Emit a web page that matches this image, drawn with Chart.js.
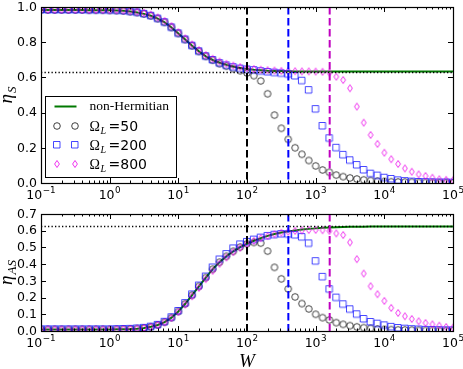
<!DOCTYPE html>
<html>
<head>
<meta charset="utf-8">
<title>eta_S / eta_AS vs W</title>
<script src="https://cdn.jsdelivr.net/npm/chart.js@4.4.1/dist/chart.umd.min.js"></script>
<style>
  html, body { margin: 0; padding: 0; background: #fff; }
  #page { position: relative; width: 463px; height: 369px; overflow: hidden; }
  #top-chart { position: absolute; left: 0; top: 0; }
  #bottom-chart { position: absolute; left: 0; top: 207px; }
</style>
</head>
<body>
<div id="page">
  <canvas id="top-chart" width="463" height="207"></canvas>
  <canvas id="bottom-chart" width="463" height="162"></canvas>
</div>
<script>
// W grid, 10 points per decade
const wValues = [
  0.1, 0.1259, 0.1585, 0.1995, 0.2512, 0.3162, 0.3981, 0.5012, 0.631, 0.7943,
  1, 1.259, 1.585, 1.995, 2.512, 3.162, 3.981, 5.012, 6.31, 7.943,
  10, 12.59, 15.85, 19.95, 25.12, 31.62, 39.81, 50.12, 63.1, 79.43,
  100, 125.9, 158.5, 199.5, 251.2, 316.2, 398.1, 501.2, 631, 794.3,
  1000, 1259, 1585, 1995, 2512, 3162, 3981, 5012, 6310, 7943,
  10000, 12590, 15850, 19950, 25120, 31620, 39810, 50120, 63100, 79430,
  100000
];

// top panel: eta_S
const etaS_nh = [
  0.983, 0.983, 0.983, 0.983, 0.983, 0.983, 0.983, 0.982, 0.982, 0.982,
  0.981, 0.980, 0.978, 0.974, 0.969, 0.961, 0.950, 0.934, 0.913, 0.884,
  0.850, 0.815, 0.780, 0.748, 0.720, 0.699, 0.683, 0.671, 0.661, 0.654,
  0.648, 0.644, 0.641, 0.638, 0.637, 0.636, 0.635, 0.634, 0.633, 0.633,
  0.633, 0.633, 0.633, 0.633, 0.633, 0.633, 0.633, 0.633, 0.633, 0.633,
  0.633, 0.633, 0.633, 0.633, 0.633, 0.633, 0.633, 0.633, 0.633, 0.633,
  0.633
];
const etaS_50 = [
  0.983, 0.983, 0.983, 0.983, 0.983, 0.983, 0.983, 0.982, 0.982, 0.982,
  0.981, 0.980, 0.978, 0.974, 0.969, 0.961, 0.950, 0.934, 0.913, 0.884,
  0.850, 0.815, 0.780, 0.748, 0.720, 0.698, 0.678, 0.664, 0.650, 0.638,
  0.625, 0.610, 0.580, 0.507, 0.386, 0.311, 0.248, 0.200, 0.163, 0.128,
  0.097, 0.074, 0.061, 0.045, 0.036, 0.029, 0.023, 0.018, 0.014, 0.011,
  0.009, 0.007, 0.006, 0.005, 0.004, 0.003, 0.003, 0.002, 0.002, 0.002,
  0.001
];
const etaS_200 = [
  0.983, 0.983, 0.983, 0.983, 0.983, 0.983, 0.983, 0.982, 0.982, 0.982,
  0.981, 0.980, 0.978, 0.974, 0.969, 0.961, 0.950, 0.934, 0.913, 0.884,
  0.850, 0.815, 0.780, 0.748, 0.720, 0.699, 0.681, 0.668, 0.658, 0.650,
  0.645, 0.641, 0.635, 0.631, 0.627, 0.623, 0.618, 0.608, 0.581, 0.528,
  0.420, 0.324, 0.254, 0.200, 0.160, 0.129, 0.102, 0.074, 0.053, 0.042,
  0.030, 0.023, 0.015, 0.011, 0.008, 0.006, 0.005, 0.004, 0.003, 0.003,
  0.002
];
const etaS_800 = [
  0.985, 0.985, 0.985, 0.985, 0.985, 0.985, 0.985, 0.984, 0.984, 0.984,
  0.983, 0.982, 0.981, 0.978, 0.974, 0.967, 0.957, 0.941, 0.921, 0.892,
  0.857, 0.822, 0.787, 0.755, 0.727, 0.706, 0.690, 0.677, 0.667, 0.659,
  0.653, 0.648, 0.644, 0.641, 0.639, 0.637, 0.636, 0.635, 0.634, 0.634,
  0.633, 0.632, 0.627, 0.604, 0.585, 0.538, 0.434, 0.343, 0.273, 0.222,
  0.172, 0.135, 0.108, 0.083, 0.064, 0.049, 0.040, 0.030, 0.021, 0.018,
  0.015
];

// bottom panel: eta_AS
const etaAS_nh = [
  0.009, 0.009, 0.009, 0.009, 0.009, 0.009, 0.009, 0.009, 0.009, 0.009,
  0.009, 0.010, 0.011, 0.012, 0.014, 0.018, 0.025, 0.036, 0.053, 0.080,
  0.117, 0.163, 0.214, 0.267, 0.320, 0.370, 0.412, 0.447, 0.477, 0.502,
  0.522, 0.540, 0.556, 0.569, 0.580, 0.589, 0.596, 0.602, 0.607, 0.611,
  0.614, 0.617, 0.619, 0.621, 0.622, 0.623, 0.624, 0.624, 0.625, 0.625,
  0.625, 0.625, 0.625, 0.625, 0.625, 0.625, 0.625, 0.625, 0.625, 0.625,
  0.625
];
const etaAS_50 = [
  0.009, 0.009, 0.009, 0.009, 0.009, 0.009, 0.009, 0.009, 0.009, 0.009,
  0.009, 0.010, 0.011, 0.012, 0.014, 0.018, 0.025, 0.036, 0.053, 0.080,
  0.117, 0.163, 0.214, 0.267, 0.320, 0.370, 0.412, 0.447, 0.477, 0.502,
  0.522, 0.530, 0.526, 0.478, 0.381, 0.312, 0.252, 0.204, 0.164, 0.132,
  0.100, 0.080, 0.066, 0.050, 0.040, 0.032, 0.025, 0.020, 0.016, 0.012,
  0.010, 0.008, 0.007, 0.006, 0.005, 0.004, 0.003, 0.003, 0.002, 0.002,
  0.002
];
const etaAS_200 = [
  0.010, 0.010, 0.010, 0.010, 0.010, 0.010, 0.010, 0.010, 0.010, 0.010,
  0.010, 0.011, 0.012, 0.013, 0.015, 0.019, 0.026, 0.037, 0.055, 0.082,
  0.120, 0.167, 0.219, 0.272, 0.326, 0.380, 0.428, 0.460, 0.494, 0.518,
  0.533, 0.547, 0.559, 0.569, 0.576, 0.580, 0.579, 0.574, 0.562, 0.524,
  0.418, 0.324, 0.250, 0.200, 0.160, 0.130, 0.100, 0.072, 0.054, 0.044,
  0.034, 0.025, 0.018, 0.014, 0.011, 0.009, 0.007, 0.006, 0.005, 0.004,
  0.004
];
const etaAS_800 = [
  0.009, 0.009, 0.009, 0.009, 0.009, 0.009, 0.009, 0.009, 0.009, 0.009,
  0.009, 0.010, 0.011, 0.012, 0.014, 0.018, 0.025, 0.036, 0.052, 0.078,
  0.114, 0.158, 0.208, 0.258, 0.310, 0.360, 0.402, 0.440, 0.472, 0.498,
  0.520, 0.539, 0.555, 0.568, 0.579, 0.588, 0.594, 0.599, 0.602, 0.604,
  0.605, 0.603, 0.598, 0.584, 0.574, 0.530, 0.430, 0.344, 0.268, 0.220,
  0.180, 0.138, 0.108, 0.088, 0.072, 0.058, 0.048, 0.040, 0.032, 0.024,
  0.020
];

// ticks and reference lines
const xTickValues = [0.1, 1, 10, 100, 1000, 10000, 100000];
const xTickExps = ['\u22121', '0', '1', '2', '3', '4', '5'];
const yTicksS = [0, 0.2, 0.4, 0.6, 0.8, 1.0];
const yLabelsS = ['0.0', '0.2', '0.4', '0.6', '0.8', '1.0'];
const yTicksAS = [0, 0.1, 0.2, 0.3, 0.4, 0.5, 0.6, 0.7];
const yLabelsAS = ['0.0', '0.1', '0.2', '0.3', '0.4', '0.5', '0.6', '0.7'];
const cutoffW = [100, 400, 1600];      // W = 2 * Omega_L
const limitS = 0.632;
const limitAS = 0.628;
const legendNames = ['non-Hermitian', '50', '200', '800'];

// styles
const lineColor = '#007800';
const cutoffColors = ['#000000', '#0000ff', '#bf00bf'];
const tickFont = '12.5px "DejaVu Sans"';
const expFont = '8.8px "DejaVu Sans"';

function makeMarker(shape, color) {
    const c = document.createElement('canvas');
    c.width = 12;
    c.height = 12;
    const g = c.getContext('2d');
    g.strokeStyle = color;
    g.lineWidth = 1;
    g.beginPath();
    if (shape === 'circle') {
        g.arc(6, 6, 3.3, 0, Math.PI * 2);
    } else if (shape === 'square') {
        g.rect(2.5, 2.5, 6.5, 6.5);
    } else {
        g.moveTo(6, 2.5);
        g.lineTo(8.4, 6);
        g.lineTo(6, 9.5);
        g.lineTo(3.6, 6);
        g.closePath();
    }
    g.stroke();
    return c;
}

const markers = [
    makeMarker('circle', 'rgba(0,0,0,0.75)'),
    makeMarker('square', 'rgba(0,0,255,0.72)'),
    makeMarker('diamond', 'rgba(235,0,235,0.8)')
];

function points(arr) {
    return wValues.map((w, i) => ({ x: w, y: arr[i] }));
}

function buildDatasets(nh, s50, s200, s800) {
    const base = { showLine: false, pointRadius: 3, pointHoverRadius: 3 };
    return [
        { label: legendNames[0], data: points(nh), showLine: true, borderColor: lineColor, borderWidth: 2, pointRadius: 0, order: 3 },
        Object.assign({ label: legendNames[1], data: points(s50), pointStyle: markers[0], order: 2 }, base),
        Object.assign({ label: legendNames[2], data: points(s200), pointStyle: markers[1], order: 1 }, base),
        Object.assign({ label: legendNames[3], data: points(s800), pointStyle: markers[2], order: 0 }, base)
    ];
}

function drawRotatedTitle(ctx, main, sub, xBase, yCenter) {
    ctx.save();
    ctx.translate(xBase, yCenter);
    ctx.rotate(-Math.PI / 2);
    ctx.fillStyle = '#000';
    ctx.textBaseline = 'alphabetic';
    ctx.textAlign = 'left';
    ctx.font = 'italic 19px "Liberation Serif"';
    const wMain = ctx.measureText(main).width;
    ctx.font = 'italic 13px "Liberation Serif"';
    const wSub = ctx.measureText(sub).width;
    const start = -(wMain + wSub + 1) / 2;
    ctx.font = 'italic 19px "Liberation Serif"';
    ctx.fillText(main, start, 0);
    ctx.font = 'italic 13px "Liberation Serif"';
    ctx.fillText(sub, start + wMain + 1, 4);
    ctx.restore();
}

function drawLegend(ctx, area) {
    const left = area.left + 4.5;
    const top = area.top + 89.5;
    ctx.save();
    ctx.fillStyle = '#fff';
    ctx.fillRect(left, top, 131, 81);
    ctx.strokeStyle = '#000';
    ctx.lineWidth = 1;
    ctx.strokeRect(left, top, 131, 81);

    const rows = [top + 10, top + 29.5, top + 48.5, top + 67.5];
    const m1 = left + 11.5;
    const m2 = left + 29.5;
    const textX = left + 44;

    ctx.strokeStyle = lineColor;
    ctx.lineWidth = 2;
    ctx.beginPath();
    ctx.moveTo(left + 9, rows[0]);
    ctx.lineTo(left + 31, rows[0]);
    ctx.stroke();

    ctx.fillStyle = '#000';
    ctx.textBaseline = 'middle';
    ctx.textAlign = 'left';
    ctx.font = '13.5px "Liberation Serif"';
    ctx.fillText(legendNames[0], textX, rows[0]);

    for (let i = 1; i < 4; i++) {
        const y = rows[i];
        ctx.drawImage(markers[i - 1], Math.round(m1) - 6, Math.round(y) - 6);
        ctx.drawImage(markers[i - 1], Math.round(m2) - 6, Math.round(y) - 6);
        ctx.textBaseline = 'alphabetic';
        const base = y + 4.5;
        ctx.font = '14px "Liberation Serif"';
        ctx.fillText('\u03A9', textX, base);
        const wO = ctx.measureText('\u03A9').width;
        ctx.font = 'italic 10px "Liberation Serif"';
        ctx.fillText('L', textX + wO + 0.5, base + 3);
        ctx.font = '14px "DejaVu Sans"';
        ctx.fillText('=' + legendNames[i], textX + 19, base);
    }
    ctx.restore();
}

const panelDecor = {
    id: 'panelDecor',
    afterDatasetsDraw(chart) {
        const opts = chart.options.plugins.panelDecor;
        const { ctx, chartArea: a, scales: { x, y } } = chart;
        ctx.save();
        ctx.beginPath();
        ctx.rect(a.left, a.top, a.width, a.height);
        ctx.clip();

        // dotted limit line
        const yl = Math.round(y.getPixelForValue(opts.limit)) + 0.5;
        ctx.strokeStyle = '#000';
        ctx.lineWidth = 1.3;
        ctx.setLineDash([1.3, 2.2]);
        ctx.beginPath();
        ctx.moveTo(a.left, yl);
        ctx.lineTo(a.right, yl);
        ctx.stroke();

        // dashed cutoffs
        ctx.lineWidth = 2;
        ctx.setLineDash([7.5, 3.5]);
        cutoffW.forEach((w, i) => {
            const px = x.getPixelForValue(w);
            ctx.strokeStyle = cutoffColors[i];
            ctx.beginPath();
            ctx.moveTo(px, a.top);
            ctx.lineTo(px, a.bottom);
            ctx.stroke();
        });
        ctx.setLineDash([]);
        ctx.restore();

        // ticks (inward) and frame
        ctx.save();
        ctx.strokeStyle = '#000';
        ctx.lineWidth = 1;
        ctx.beginPath();
        for (let d = -1; d <= 5; d++) {
            for (let m = 1; m <= 9; m++) {
                const v = m * Math.pow(10, d);
                if (v > 100000 * 1.0001) break;
                const px = Math.round(x.getPixelForValue(v)) + 0.5;
                const len = m === 1 ? 5 : 2.5;
                ctx.moveTo(px, a.bottom);
                ctx.lineTo(px, a.bottom - len);
                ctx.moveTo(px, a.top);
                ctx.lineTo(px, a.top + len);
            }
        }
        opts.yTicks.forEach(v => {
            const py = Math.round(y.getPixelForValue(v)) + 0.5;
            ctx.moveTo(a.left, py);
            ctx.lineTo(a.left + 5, py);
            ctx.moveTo(a.right, py);
            ctx.lineTo(a.right - 5, py);
        });
        ctx.stroke();
        ctx.lineWidth = 1.2;
        ctx.strokeRect(Math.round(a.left) + 0.5, Math.round(a.top) + 0.5, Math.round(a.width), Math.round(a.height));
        ctx.restore();

        if (opts.legend) drawLegend(ctx, a);
    },
    afterDraw(chart) {
        const opts = chart.options.plugins.panelDecor;
        const { ctx, chartArea: a, scales: { x, y } } = chart;
        ctx.save();
        ctx.fillStyle = '#000';

        // y tick labels
        ctx.font = tickFont;
        ctx.textAlign = 'right';
        ctx.textBaseline = 'middle';
        opts.yTicks.forEach((v, i) => {
            ctx.fillText(opts.yLabels[i], a.left - 4, y.getPixelForValue(v) + 0.5);
        });

        // x tick labels: 10 with raised exponent
        ctx.textAlign = 'left';
        ctx.textBaseline = 'alphabetic';
        xTickValues.forEach((v, i) => {
            const px = x.getPixelForValue(v);
            ctx.font = tickFont;
            const wb = ctx.measureText('10').width;
            ctx.font = expFont;
            const we = ctx.measureText(xTickExps[i]).width;
            const start = px - (wb + we + 0.5) / 2;
            ctx.font = tickFont;
            ctx.fillText('10', start, a.bottom + 16);
            ctx.font = expFont;
            ctx.fillText(xTickExps[i], start + wb + 0.5, a.bottom + 9.5);
        });
        ctx.restore();

        drawRotatedTitle(ctx, '\u03B7', opts.ySub, 12, (a.top + a.bottom) / 2);
        if (opts.xTitle) {
            ctx.save();
            ctx.fillStyle = '#000';
            ctx.font = 'italic 19px "Liberation Serif"';
            ctx.textAlign = 'center';
            ctx.textBaseline = 'alphabetic';
            ctx.fillText(opts.xTitle, (a.left + a.right) / 2, a.bottom + 36);
            ctx.restore();
        }
    }
};

function makeOptions(yMax, padBottom, decor) {
    return {
        responsive: false,
        animation: false,
        events: [],
        layout: { padding: { left: 41, right: 10, top: 7, bottom: padBottom } },
        plugins: {
            legend: { display: false },
            tooltip: { enabled: false },
            panelDecor: decor
        },
        scales: {
            x: { type: 'logarithmic', display: false, min: 0.1, max: 100000 },
            y: { type: 'linear', display: false, min: 0, max: yMax }
        }
    };
}

new Chart(document.getElementById('top-chart'), {
    type: 'scatter',
    data: { datasets: buildDatasets(etaS_nh, etaS_50, etaS_200, etaS_800) },
    options: makeOptions(1.0, 24, { limit: limitS, yTicks: yTicksS, yLabels: yLabelsS, ySub: 'S', legend: true }),
    plugins: [panelDecor]
});

new Chart(document.getElementById('bottom-chart'), {
    type: 'scatter',
    data: { datasets: buildDatasets(etaAS_nh, etaAS_50, etaAS_200, etaAS_800) },
    options: makeOptions(0.7, 38, { limit: limitAS, yTicks: yTicksAS, yLabels: yLabelsAS, ySub: 'AS', legend: false, xTitle: 'W' }),
    plugins: [panelDecor]
});
</script>
</body>
</html>
